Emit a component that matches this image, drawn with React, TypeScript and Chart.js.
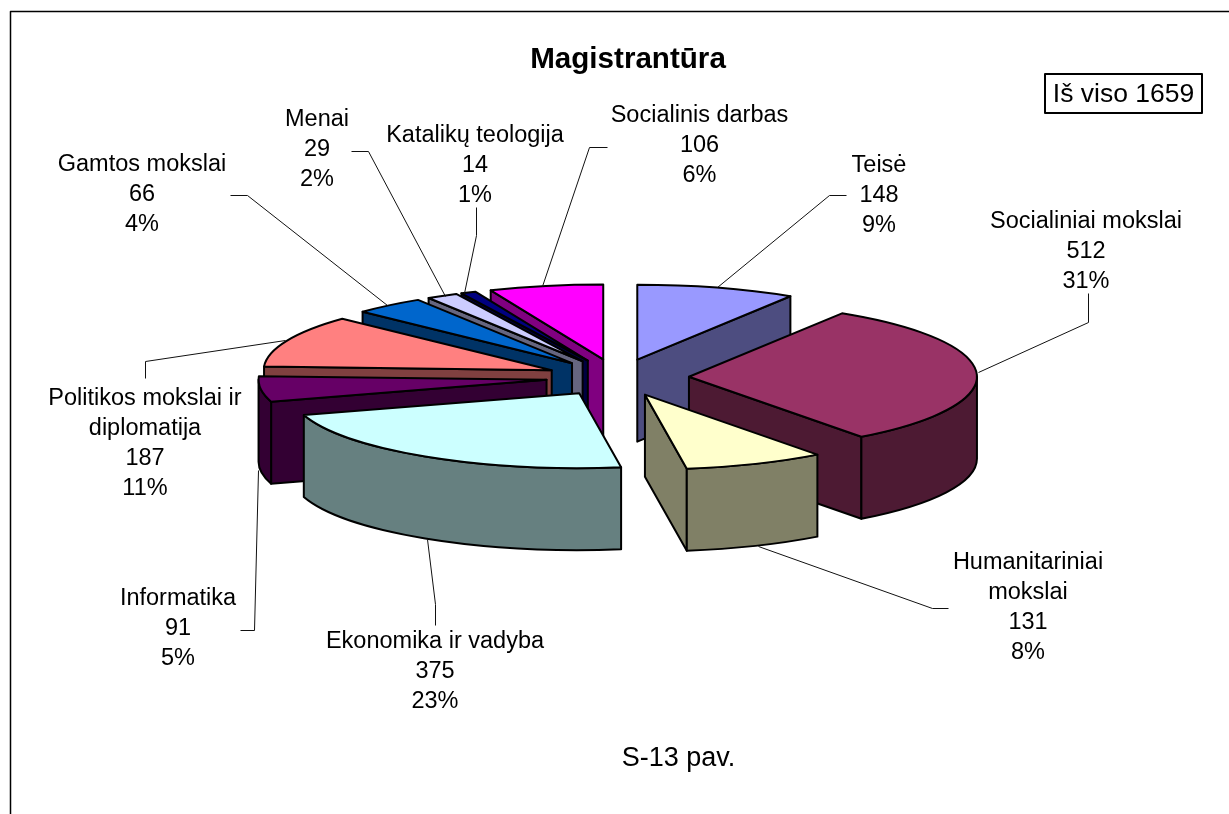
import React, { useEffect, useRef } from "react";
import { Chart, registerables } from "chart.js";

Chart.register(...registerables);

const categories = [
  "Teisė", "Socialiniai mokslai", "Humanitariniai mokslai", "Ekonomika ir vadyba", "Informatika",
  "Politikos mokslai ir diplomatija", "Gamtos mokslai", "Menai", "Katalikų teologija", "Socialinis darbas",
];
const values = [148, 512, 131, 375, 91, 187, 66, 29, 14, 106];
const percents = ["9%", "31%", "8%", "23%", "5%", "11%", "4%", "2%", "1%", "6%"];
const topColors = ["#9999FF", "#993366", "#FFFFCC", "#CCFFFF", "#660066", "#FF8080", "#0066CC", "#CCCCFF", "#000080", "#FF00FF"];
const wallColors = ["#4D4D80", "#4D1A33", "#808066", "#668080", "#330033", "#804040", "#003366", "#666680", "#000040", "#800080"];

const titleText = "Magistrantūra";
const totalText = "Iš viso 1659";
const captionText = "S-13 pav.";

// Label wrapping and placement: [centre x, first line y]
const labelLines = [
  ["Teisė"], ["Socialiniai mokslai"], ["Humanitariniai", "mokslai"], ["Ekonomika ir vadyba"], ["Informatika"],
  ["Politikos mokslai ir", "diplomatija"], ["Gamtos mokslai"], ["Menai"], ["Katalikų teologija"], ["Socialinis darbas"],
];
const labelAnchors = [
  [879, 166], [1086, 222], [1028, 563], [435, 642], [178, 599],
  [145, 399], [142, 165], [317, 120], [475, 136], [699.5, 116],
];
const leaders = [
  [[717, 287], [829, 195], [846, 195]],
  [[978, 372], [1088, 322], [1088, 293]],
  [[758, 546], [932, 608], [948, 608]],
  [[427, 539], [435, 604], [435, 625]],
  [[258, 470], [254, 630], [240, 630]],
  [[285, 340], [145, 361], [145, 378]],
  [[387, 305], [247, 195], [230, 195]],
  [[445, 296], [368, 151], [351, 151]],
  [[464, 293], [476, 235], [476, 207]],
  [[542, 286], [589, 147], [607, 147]],
];

const PIE_X = 617.5;
const PIE_Y = 377.5;
const RADIUS = 288;
const TILT = 0.26;
const EXPLODE = 71.5;
const DEPTH = 82;
const FONT = '"Liberation Sans", Arial, sans-serif';

const pie3d = {
  id: "pie3d",
  beforeDatasetDraw(chart: any) {
    const ctx = chart.ctx;
    const arcs = chart.getDatasetMeta(0).data.map((arc: any, i: number) => {
      const p = arc.getProps(["x", "y", "startAngle", "endAngle", "outerRadius"], true);
      const mid = (p.startAngle + p.endAngle) / 2;
      return { arc, i, ...p, mid };
    });
    arcs.sort((a: any, b: any) => Math.sin(a.mid) - Math.sin(b.mid));
    ctx.lineJoin = "round";
    ctx.lineWidth = 2;
    ctx.strokeStyle = "#000";
    for (const s of arcs) {
      const cx = PIE_X + Math.cos(s.mid) * EXPLODE;
      const cy = PIE_Y + Math.sin(s.mid) * EXPLODE * TILT;
      const R = s.outerRadius;
      const ry = R * TILT;
      const px = (a: number) => cx + Math.cos(a) * R;
      const py = (a: number) => cy + Math.sin(a) * ry;
      const a = s.startAngle;
      const b = s.endAngle;
      ctx.fillStyle = wallColors[s.i];
      const face = (ang: number) => {
        ctx.beginPath();
        ctx.moveTo(cx, cy);
        ctx.lineTo(px(ang), py(ang));
        ctx.lineTo(px(ang), py(ang) + DEPTH);
        ctx.lineTo(cx, cy + DEPTH);
        ctx.closePath();
        ctx.fill();
        ctx.stroke();
      };
      if (Math.cos(a) < 0) face(a);
      if (Math.cos(b) > 0) face(b);
      // Outer wall: the part of the rim that faces the viewer
      const TAU = Math.PI * 2;
      for (let k = -1; k <= 1; k++) {
        const from = Math.max(a, k * TAU);
        const to = Math.min(b, k * TAU + Math.PI);
        if (to > from) {
          ctx.beginPath();
          ctx.ellipse(cx, cy, R, ry, 0, from, to);
          ctx.lineTo(px(to), py(to) + DEPTH);
          ctx.ellipse(cx, cy + DEPTH, R, ry, 0, to, from, true);
          ctx.closePath();
          ctx.fill();
          ctx.stroke();
        }
      }
      // Top face, drawn by the library's arc element under a tilt transform
      ctx.save();
      ctx.translate(cx, cy);
      ctx.scale(1, TILT);
      ctx.translate(-s.x, -s.y);
      s.arc.draw(ctx);
      ctx.restore();
      ctx.beginPath();
      ctx.moveTo(cx, cy);
      ctx.ellipse(cx, cy, R, ry, 0, a, b);
      ctx.closePath();
      ctx.stroke();
    }
    return false;
  },
  afterDraw(chart: any) {
    const ctx = chart.ctx;
    ctx.save();
    // Frame: top and left sides only are in view
    ctx.strokeStyle = "#000";
    ctx.lineWidth = 1.5;
    ctx.beginPath();
    ctx.moveTo(10.5, 814);
    ctx.lineTo(10.5, 11.5);
    ctx.lineTo(1229, 11.5);
    ctx.stroke();
    // Leader lines
    ctx.lineWidth = 1;
    ctx.strokeStyle = "#111";
    leaders.forEach((pts) => {
      ctx.beginPath();
      pts.forEach(([x, y], j) => (j ? ctx.lineTo(x + 0.5, y + 0.5) : ctx.moveTo(x + 0.5, y + 0.5)));
      ctx.stroke();
    });
    // Data labels
    ctx.fillStyle = "#000";
    ctx.font = `23.5px ${FONT}`;
    ctx.textAlign = "center";
    ctx.textBaseline = "middle";
    categories.forEach((_, i) => {
      const lines = [...labelLines[i], String(values[i]), percents[i]];
      lines.forEach((t, j) => ctx.fillText(t, labelAnchors[i][0], labelAnchors[i][1] + j * 30));
    });
    ctx.font = `27px ${FONT}`;
    ctx.fillText(captionText, 678.5, 759);
    // Total box
    ctx.lineWidth = 2;
    ctx.strokeStyle = "#000";
    ctx.strokeRect(1045, 74, 157, 39);
    ctx.font = `26.5px ${FONT}`;
    ctx.fillText(totalText, 1123.5, 95);
    ctx.restore();
  },
};

export default function App() {
  const ref = useRef<HTMLCanvasElement>(null);
  useEffect(() => {
    document.body.style.margin = "0";
    const chart = new Chart(ref.current as HTMLCanvasElement, {
      type: "pie",
      data: {
        labels: categories,
        datasets: [{ data: values, backgroundColor: topColors, borderWidth: 0, radius: RADIUS }],
      } as any,
      options: {
        animation: false,
        responsive: false,
        events: [],
        layout: { padding: { left: 27 } },
        plugins: {
          legend: { display: false },
          tooltip: { enabled: false },
          title: {
            display: true,
            text: titleText,
            color: "#000",
            font: { family: FONT, size: 29.6, weight: "bold" },
            padding: { top: 42, bottom: 10 },
          },
        },
      } as any,
      plugins: [pie3d],
    });
    return () => chart.destroy();
  }, []);
  return <canvas ref={ref} width={1229} height={814} style={{ display: "block" }} />;
}
